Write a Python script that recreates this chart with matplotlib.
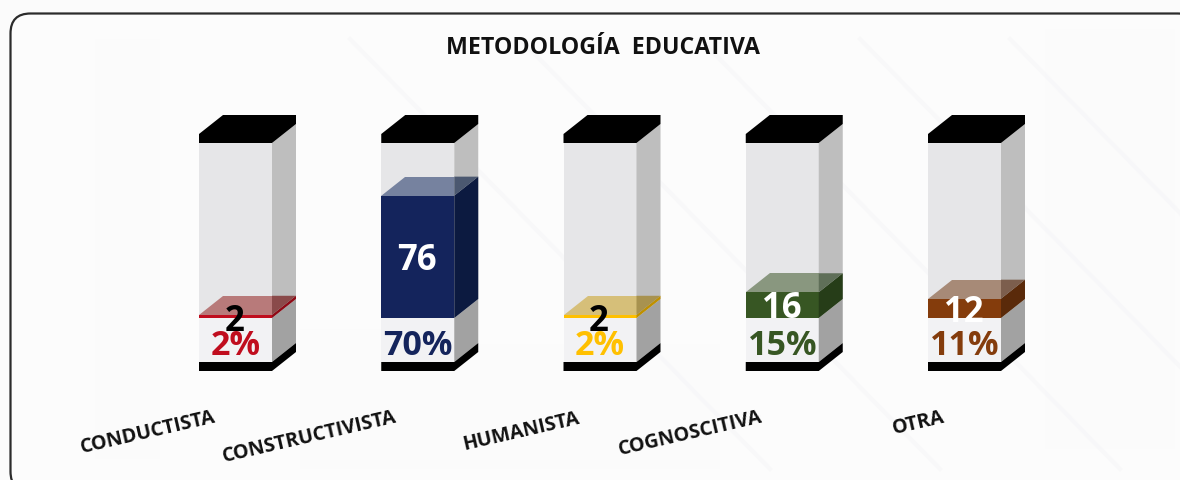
import matplotlib
matplotlib.use("Agg")
import matplotlib.pyplot as plt
from matplotlib.patches import Polygon, FancyBboxPatch, Rectangle

categories = ["CONDUCTISTA", "CONSTRUCTIVISTA", "HUMANISTA", "COGNOSCITIVA", "OTRA"]
counts = [2, 76, 2, 16, 12]
percents = ["2%", "70%", "2%", "15%", "11%"]
colors = ["#C00D1E", "#14245C", "#FFC000", "#375623", "#843C0C"]
side_colors = ["#8F0A16", "#0C1A40", "#BF9000", "#263D18", "#5A2A0A"]
top_colors = ["#B87A7A", "#76829F", "#D6BF79", "#89977F", "#A78A77"]
top_side_colors = ["#8A4A4A", "#4B5870", "#A8924F", "#5F6F58", "#7C5E4D"]
count_colors = ["black", "white", "black", "white", "white"]
count_label_y = [-1.9, 36, -1.9, 6.2, 3.7]

W, H = 1180, 481
fig = plt.figure(figsize=(W / 100, H / 100), dpi=100, facecolor="#FBFBFB")

# Full-figure helper axes in pixels for the frame and background
bg = fig.add_axes([0, 0, 1, 1])
bg.set_xlim(0, W); bg.set_ylim(H, 0); bg.axis("off")
bg.add_patch(FancyBboxPatch((10.5, 14.5), 1187, 478, boxstyle="round,pad=0,rounding_size=20",
                            fc="#FCFCFC", ec="#2B2B2B", lw=1.6, zorder=0.5))
for (x, y, w, h) in [(95, 40, 65, 420), (300, 330, 170, 140), (1045, 30, 130, 420), (470, 345, 250, 125)]:
    bg.add_patch(Rectangle((x, y), w, h, fc="#FBFBFB", ec="none", zorder=0.6))
for x0 in [350, 520, 700, 860, 1010]:
    bg.plot([x0, x0 + 420], [40, 470], color="#F7F7F9", lw=3, zorder=0.7, alpha=0.8)

bg.text(603, 48, "METODOLOGÍA  EDUCATIVA", ha="center", va="center",
        fontsize=16.7, fontweight="bold", family="Open Sans", color="#111111")

# Chart axes: x in category units, y in value units
ax = fig.add_axes([0, 0, 1, 1])
ax.patch.set_alpha(0)
ppx, ppy = 182.25, 1.61          # pixels per category / per value
x0px, y0px = 235.5, 319.0        # pixel position of category 0 / value 0
ax.set_xlim(-x0px / ppx, (W - x0px) / ppx)
ax.set_ylim(-(H - y0px) / ppy, y0px / ppy)
ax.axis("off")

hw = 36.5 / ppx
dx, dy = 24 / ppx, 19 / ppy
top = 175 / ppy               # gauge top relative to baseline
cap = 9 / ppy
floor = -44 / ppy
foot = 9 / ppy


def para(points, **kw):
    ax.add_patch(Polygon(points, closed=True, ec="none", **kw))


for i, (cat, v) in enumerate(zip(categories, counts)):
    l, r = i - hw, i + hw
    # gauge body
    para([(l, 0), (r, 0), (r, top), (l, top)], fc="#E6E6E8", zorder=2)
    para([(r, 0), (r + dx, dy), (r + dx, top + dy), (r, top)], fc="#BEBEBE", zorder=2)
    para([(l, floor), (r, floor), (r, 0), (l, 0)], fc="#F2F2F4", zorder=2)
    para([(r, floor), (r + dx, floor + dy), (r + dx, dy), (r, 0)], fc="#A2A2A2", zorder=2)
    # black cap and foot
    para([(l, top), (r, top), (r + dx, top + dy), (r + dx, top + dy + cap),
          (l + dx, top + dy + cap), (l, top + cap)], fc="black", zorder=5)
    para([(l, floor - foot), (r, floor - foot), (r + dx, floor - foot + dy),
          (r + dx, floor + dy), (r, floor), (l, floor)], fc="black", zorder=5)
    # value column
    para([(l, 0), (r, 0), (r, v), (l, v)], fc=colors[i], zorder=3)
    para([(r, 0), (r + dx, dy), (r + dx, v + dy), (r, v)], fc=side_colors[i], zorder=3)
    para([(l, v), (r, v), (r, v + dy), (l + dx, v + dy)], fc=top_colors[i], zorder=3)
    para([(r, v), (r + dx, v + dy), (r, v + dy)], fc=top_side_colors[i], zorder=3)
    # labels
    ax.text(i - 0.005, count_label_y[i], str(v), ha="center", va="center",
            fontsize=25, fontweight="bold", family="Open Sans", color=count_colors[i], zorder=7)
    ax.text(i, -16.5, percents[i], ha="center", va="center", fontsize=24.5,
            fontweight="bold", family="Open Sans", color=colors[i], zorder=6)

label_px = [(148, 433), (310, 437), (521, 432), (690, 434), (919, 423)]
for name, (px, py) in zip(categories, label_px):
    bg.text(px, py, name, ha="center", va="center", rotation=13, rotation_mode="anchor",
            fontsize=14.2, fontweight="bold", family="Open Sans", color="#111111")

fig.savefig("out.png", dpi=100, facecolor=fig.get_facecolor())
